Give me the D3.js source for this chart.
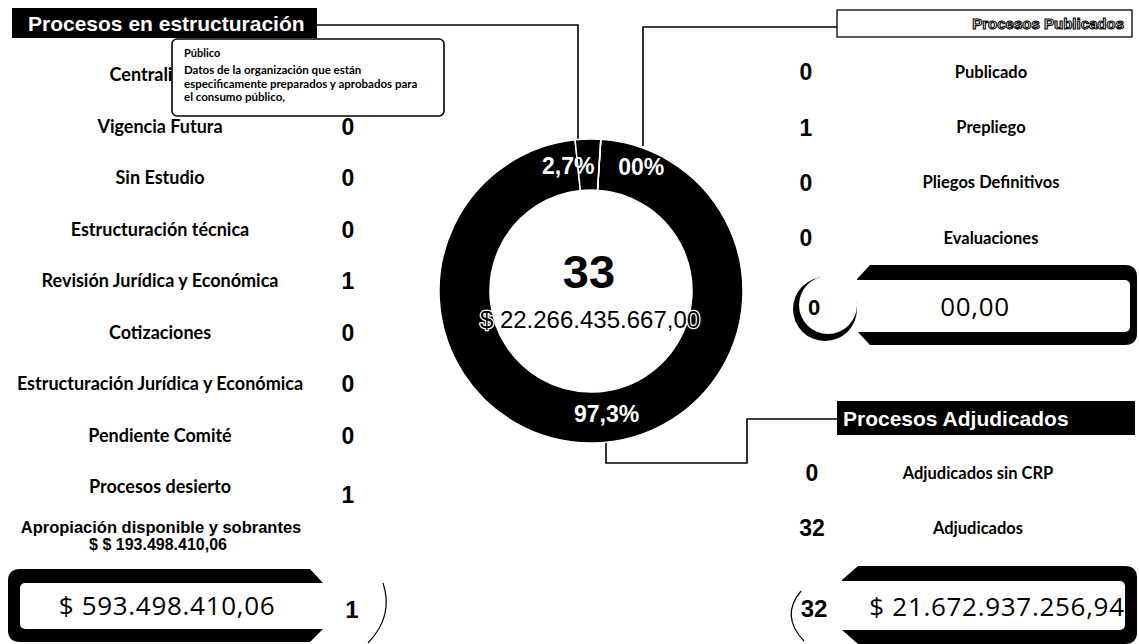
<!DOCTYPE html>
<html><head><meta charset="utf-8">
<script src="https://cdn.jsdelivr.net/npm/d3@7/dist/d3.min.js"></script>
<style>body{margin:0;background:#fff}svg{display:block}</style>
</head><body><svg id="c" width="1139" height="644"></svg>
<script>
// ---------- data ----------
const leftCategories = ["Centralizado","Vigencia Futura","Sin Estudio","Estructuración técnica","Revisión Jurídica y Económica","Cotizaciones","Estructuración Jurídica y Económica","Pendiente Comité","Procesos desierto"];
const leftValues = [0,0,0,0,1,0,0,0,1];
const publishedCategories = ["Publicado","Prepliego","Pliegos Definitivos","Evaluaciones"];
const publishedValues = [0,1,0,0];
const awardedCategories = ["Adjudicados sin CRP","Adjudicados"];
const awardedValues = [0,32];
const donutLabels = ["97,3%","2,7%","00%"];
const donutValues = [97.3,2.7,0];
const totalCount = 33;
const totalAmount = "$ 22.266.435.667,00";
const availableTitle = "Apropiación disponible y sobrantes";
const availableSubtitle = "$ $ 193.498.410,06";
const structuringAmount = "$ 593.498.410,06";
const structuringCount = 1;
const publishedAmount = "00,00";
const publishedCount = 0;
const awardedAmount = "$ 21.672.937.256,94";
const awardedCount = 32;
const headerTitles = ["Procesos en estructuración","Procesos Publicados","Procesos Adjudicados"];
const tooltipTitle = "Público";
const tooltipLines = ["Datos de la organización que están","especificamente preparados y aprobados para","el consumo público,"];

// ---------- drawing ----------
const svg = d3.select("#c");
const LABEL_FONT = "Lato, 'Open Sans', sans-serif";
const NUM_FONT = "'Liberation Sans', Arial, sans-serif";
const BOX_FONT = "'Open Sans', 'DejaVu Sans', sans-serif";

// connectors
const conn = svg.append("g").attr("fill","none").attr("stroke","#000").attr("stroke-width",1.6);
conn.append("path").attr("d","M316,25 H578 V142");
conn.append("path").attr("d","M837,27 H643 V146");
conn.append("path").attr("d","M606,438 V463 H747 V419 H837");

// left header
svg.append("rect").attr("x",12).attr("y",8).attr("width",305).attr("height",30).attr("fill","#000");
svg.append("text").attr("x",28).attr("y",31).attr("fill","#fff")
  .style("font",`bold 21px ${NUM_FONT}`).text(headerTitles[0]);

// left list (first value is hidden under the tooltip in the reference)
const yLeft = d3.scalePoint().domain(leftCategories).range([75,487]);
const lg = svg.append("g");
lg.selectAll("text.lab").data(leftCategories).join("text").attr("class","lab")
  .attr("x",160).attr("y",d=>yLeft(d)).attr("dy","0.35em").attr("text-anchor","middle")
  .style("font",`bold 18px ${LABEL_FONT}`).text(d=>d);
const leftRows = leftValues.map((v,i)=>({v, c:leftCategories[i], i})).filter(r=>r.i>0);
lg.selectAll("text.val").data(leftRows).join("text").attr("class","val")
  .attr("x",348).attr("y",r=>yLeft(r.c)+(r.i===leftValues.length-1?8:0)).attr("dy","0.36em").attr("text-anchor","middle")
  .style("font",`bold 23px ${NUM_FONT}`).text(r=>r.v);

svg.append("text").attr("x",161).attr("y",533).attr("text-anchor","middle")
  .style("font",`bold 16.5px ${NUM_FONT}`).text(availableTitle);
svg.append("text").attr("x",158).attr("y",550).attr("text-anchor","middle")
  .style("font",`bold 16px ${NUM_FONT}`).text(availableSubtitle);

// left bottom box
svg.append("path").attr("fill","#000")
  .attr("d","M20,569 L310,569 L323,583 L323,629 L310,642 L20,642 Q8,642 8,630 L8,581 Q8,569 20,569 Z");
svg.append("rect").attr("x",20).attr("y",583).attr("width",312).attr("height",46).attr("rx",5).attr("fill","#fff");
svg.append("text").attr("x",167).attr("y",606).attr("dy","0.36em").attr("text-anchor","middle")
  .style("font",`26px ${BOX_FONT}`).style("letter-spacing","0.7px").text(structuringAmount);
svg.append("text").attr("x",352).attr("y",609).attr("dy","0.36em").attr("text-anchor","middle")
  .style("font",`bold 24px ${NUM_FONT}`).text(structuringCount);
svg.append("path").attr("d","M383,583 Q394,616 368,643").attr("fill","none").attr("stroke","#000").attr("stroke-width",1.2);

// donut
const cx = 591, cy = 291;
const pie = d3.pie().sort(null).value(d=>d).startAngle(0.0646).endAngle(0.0646+2*Math.PI);
const arcs = pie(donutValues);
const arc = d3.arc().innerRadius(101).outerRadius(152);
const dg = svg.append("g").attr("transform",`translate(${cx},${cy})`);
dg.selectAll("path").data(arcs).join("path").attr("d",arc).attr("fill","#000")
  .attr("stroke","#fff").attr("stroke-width",1.5);
const labelArc = d3.arc().innerRadius(126).outerRadius(126);
const labelDx = [13, 6, 19], labelDy = [-3, 1, 1], labelAnchor = ["middle","end","start"];
dg.selectAll("text.pct").data(arcs).join("text").attr("class","pct")
  .attr("x",(d,i)=>labelArc.centroid(d)[0]+labelDx[i])
  .attr("y",(d,i)=>labelArc.centroid(d)[1]+labelDy[i])
  .attr("dy","0.36em").attr("text-anchor",(d,i)=>labelAnchor[i])
  .attr("fill","#fff").style("font",`bold 23px ${NUM_FONT}`).text((d,i)=>donutLabels[i]);
dg.append("text").attr("x",-2).attr("y",-20).attr("dy","0.36em").attr("text-anchor","middle")
  .style("font",`bold 47px ${NUM_FONT}`).text(totalCount);
dg.append("text").attr("x",-1).attr("y",28).attr("dy","0.36em").attr("text-anchor","middle")
  .attr("stroke","#fff").attr("stroke-width",2.5).attr("paint-order","stroke")
  .style("font",`24px ${NUM_FONT}`).text(totalAmount);

// right header: published
svg.append("rect").attr("x",837).attr("y",10).attr("width",295).attr("height",27).attr("fill","#fff").attr("stroke","#000").attr("stroke-width",1.3);
svg.append("text").attr("x",1124).attr("y",29).attr("text-anchor","end").attr("fill","#fff").attr("stroke","#000").attr("stroke-width",1.1)
  .style("font",`bold 15px ${NUM_FONT}`).text(headerTitles[1]);

const yPub = d3.scalePoint().domain(publishedCategories).range([72,238]);
const pg = svg.append("g");
pg.selectAll("text.val").data(publishedValues).join("text").attr("class","val")
  .attr("x",806).attr("y",(d,i)=>yPub(publishedCategories[i])).attr("dy","0.36em").attr("text-anchor","middle")
  .style("font",`bold 23px ${NUM_FONT}`).text(d=>d);
pg.selectAll("text.lab").data(publishedCategories).join("text").attr("class","lab")
  .attr("x",991).attr("y",d=>yPub(d)).attr("dy","0.35em").attr("text-anchor","middle")
  .style("font",`bold 16.5px ${LABEL_FONT}`).text(d=>d);

// published box
svg.append("path").attr("fill","#000")
  .attr("d","M870,265 L1125,265 Q1137,265 1137,277 L1137,333 Q1137,345 1125,345 L870,345 L857,331 L857,279 Z");
svg.append("rect").attr("x",852).attr("y",280).attr("width",278).attr("height",52).attr("rx",5).attr("fill","#fff");
svg.append("circle").attr("cx",825).attr("cy",309).attr("r",32).attr("fill","#000");
svg.append("circle").attr("cx",828).attr("cy",305).attr("r",29).attr("fill","#fff");
svg.append("text").attr("x",814).attr("y",307).attr("dy","0.36em").attr("text-anchor","middle")
  .style("font",`bold 22px ${NUM_FONT}`).text(publishedCount);
svg.append("text").attr("x",975).attr("y",307).attr("dy","0.36em").attr("text-anchor","middle")
  .style("font",`26px ${BOX_FONT}`).style("letter-spacing","0.7px").text(publishedAmount);

// awarded header
svg.append("rect").attr("x",837).attr("y",401).attr("width",298).attr("height",34).attr("fill","#000");
svg.append("text").attr("x",843).attr("y",426).attr("fill","#fff")
  .style("font",`bold 21px ${NUM_FONT}`).text(headerTitles[2]);

const yAw = d3.scalePoint().domain(awardedCategories).range([473,528]);
const ag = svg.append("g");
ag.selectAll("text.val").data(awardedValues).join("text").attr("class","val")
  .attr("x",812).attr("y",(d,i)=>yAw(awardedCategories[i])).attr("dy","0.36em").attr("text-anchor","middle")
  .style("font",`bold 23px ${NUM_FONT}`).text(d=>d);
ag.selectAll("text.lab").data(awardedCategories).join("text").attr("class","lab")
  .attr("x",978).attr("y",d=>yAw(d)).attr("dy","0.35em").attr("text-anchor","middle")
  .style("font",`bold 16.5px ${LABEL_FONT}`).text(d=>d);

// awarded box
svg.append("path").attr("fill","#000")
  .attr("d","M858,566 L1125,566 Q1137,566 1137,578 L1137,632 Q1137,644 1125,644 L858,644 L842,630 L842,580 Z");
svg.append("rect").attr("x",835).attr("y",581).attr("width",290).attr("height",49).attr("rx",5).attr("fill","#fff");
svg.append("text").attr("x",997).attr("y",607).attr("dy","0.36em").attr("text-anchor","middle")
  .style("font",`26px ${BOX_FONT}`).style("letter-spacing","0.7px").text(awardedAmount);
svg.append("text").attr("x",814).attr("y",608).attr("dy","0.36em").attr("text-anchor","middle")
  .style("font",`bold 24px ${NUM_FONT}`).text(awardedCount);
svg.append("path").attr("d","M801,591 Q780,616 804,641").attr("fill","none").attr("stroke","#000").attr("stroke-width",1.2);

// tooltip (on top)
svg.append("rect").attr("x",172).attr("y",39).attr("width",272).attr("height",77).attr("rx",5)
  .attr("fill","#fff").attr("stroke","#000").attr("stroke-width",1.6);
const tt = svg.append("text").attr("x",184).attr("y",57).style("font",`bold 11px ${LABEL_FONT}`);
tt.append("tspan").text(tooltipTitle);
tt.selectAll("tspan.l").data(tooltipLines).join("tspan").attr("class","l")
  .attr("x",184).attr("y",(d,i)=>74+i*13.5).style("font-size","11.5px").text(d=>d);
</script></body></html>
